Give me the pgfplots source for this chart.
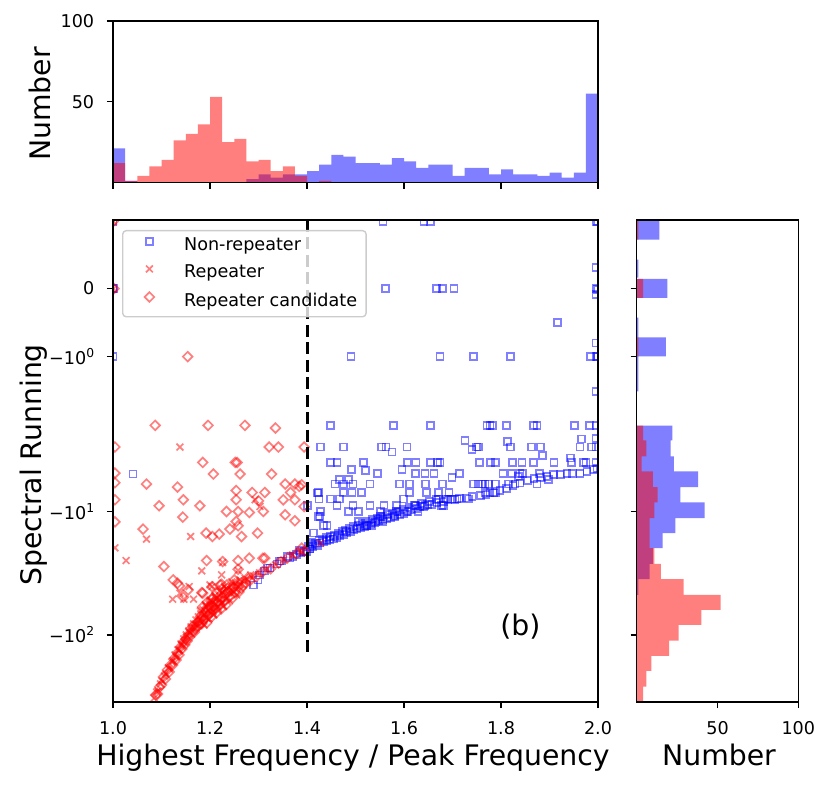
\documentclass[border=0pt]{standalone}
\usepackage{fontspec}
\setmainfont{DejaVu Sans}
\usepackage{pgfplots}
\pgfplotsset{compat=1.18}
\newcommand{\tickfont}{\fontsize{17.6bp}{21bp}\selectfont}
\newcommand{\labfont}{\fontsize{28.3bp}{33bp}\selectfont}
\newcommand{\msup}[1]{\raisebox{6.8bp}{\fontsize{12.3bp}{14bp}\selectfont #1}}
\pgfplotsset{
  common/.style={
    scale only axis,
    axis on top,
    axis line style={line width=1.4bp, black},
    tick style={line width=1.4bp, black},
    major tick length=6.2bp,
    tick align=outside,
    tick pos=left,
    ticklabel style={font=\tickfont},
    xticklabel style={anchor=north, inner sep=0pt, yshift=-13bp},
    yticklabel style={anchor=east, inner sep=0pt, xshift=-12.4bp},
    /pgf/number format/assume math mode=true,
  },
  bluemk/.style={only marks, mark=square, mark size=3.5bp, color=blue, mark options={draw opacity=0.5, line width=1.7bp}},
  redx/.style={only marks, mark=x, mark size=4.8bp, color=red, mark options={draw opacity=0.5, line width=1.7bp}},
  redd/.style={only marks, mark=square, mark size=3.4bp, color=red, mark options={rotate=45, draw opacity=0.5, line width=1.7bp}},
}
\begin{document}
\begin{tikzpicture}
\useasboundingbox (0bp,0bp) rectangle (831bp,785bp);

% ---------------- main scatter axis ----------------
\begin{axis}[common,
  at={(113bp,83bp)}, anchor=south west, width=485bp, height=482bp,
  xmin=1, xmax=2, ymin=-413, ymax=68.5,
  xtick={1,1.2,1.4,1.6,1.8,2}, xticklabels={1.0,1.2,1.4,1.6,1.8,2.0},
  ytick={0,-68,-222.7,-346},
  yticklabels={{0},{−10\msup{0}},{−10\msup{1}},{−10\msup{2}}},
  clip marker paths=true,
  legend cell align=left,
  legend image code/.code={\path (0bp,0bp) (51bp,0bp); \draw[sharp corners,#1] plot coordinates {(17bp,4.5bp)};},
  legend style={at={(0.0186,0.9793)}, anchor=north west, draw=black!20, line width=1.4bp,
    rounded corners=3.5bp, fill=white, fill opacity=0.8, text opacity=1,
    inner xsep=9bp, inner ysep=6.5bp, row sep=10bp, font=\tickfont,
    nodes={inner sep=0pt, text height=13.3bp, text depth=4.2bp}},
]
\addplot[bluemk] table {
x y
1.000 67
1.000 0
1.001 0
1.000 -68
1.557 67.3
1.641 67.3
1.654 67.3
1.996 67.3
1.999 67
1.996 20.7
1.562 0
1.667 0
1.680 0
1.703 0
1.996 0
1.999 -1
1.996 -6
1.916 -33.7
1.996 -54.3
1.491 -68
1.674 -68
1.744 -68
1.820 -68
1.984 -68
1.996 -68
1.999 -68
1.996 -102.7
1.449 -136.7
1.578 -136.7
1.654 -136.7
1.771 -136.7
1.777 -136.7
1.783 -136.7
1.812 -136.7
1.867 -136.7
1.874 -136.7
1.951 -136.7
1.982 -136.7
1.996 -136.7
1.726 -152
1.813 -152.7
1.966 -150.3
1.996 -150
1.428 -158.3
1.475 -158.3
1.554 -158.3
1.563 -158.3
1.606 -158.3
1.750 -158.3
1.753 -158.3
1.819 -158.3
1.863 -158.3
1.882 -158.3
1.963 -158.3
1.987 -158.3
1.996 -158.3
1.740 -161
1.575 -163.3
1.885 -166.7
1.944 -169.3
1.449 -173.7
1.462 -173.7
1.516 -173.7
1.607 -173.7
1.625 -173.7
1.655 -173.7
1.669 -173.7
1.674 -173.7
1.755 -173.7
1.779 -173.7
1.788 -173.7
1.824 -173.7
1.843 -173.7
1.867 -173.7
1.909 -173.7
1.946 -173.7
1.970 -173.7
1.975 -173.7
1.996 -173.7
1.545 -185
1.623 -185
1.643 -185
1.662 -185
1.715 -185
1.804 -185
1.822 -185
1.839 -185
1.845 -185
1.879 -185
1.492 -181
1.520 -182
1.596 -181
1.699 -188.7
1.898 -191
1.836 -187.7
1.041 -185.3
1.458 -195.3
1.475 -195.3
1.495 -195.3
1.530 -195.3
1.590 -195.3
1.611 -195.3
1.645 -195.3
1.680 -195.3
1.743 -195.3
1.753 -195.3
1.762 -195.3
1.767 -195.3
1.774 -195.3
1.788 -195.3
1.815 -195.3
1.829 -195.3
1.874 -195.3
1.467 -191
1.485 -191
1.423 -203.7
1.475 -203.7
1.493 -203.7
1.513 -203.7
1.612 -203.7
1.647 -203.7
1.671 -203.7
1.693 -203.7
1.767 -203.7
1.777 -203.7
1.788 -203.7
1.422 -204.3
1.425 -210.3
1.449 -210.3
1.467 -210.3
1.599 -210.3
1.671 -210.3
1.687 -210.3
1.698 -210.3
1.709 -210.3
1.733 -210.3
1.401 -217
1.462 -217
1.495 -217
1.530 -217
1.559 -217
1.585 -217
1.623 -217
1.643 -217
1.678 -217
1.681 -217
1.428 -222.7
1.485 -222.7
1.506 -222.7
1.551 -222.7
1.585 -222.7
1.606 -222.7
1.629 -222.7
1.423 -227.7
1.427 -227.7
1.551 -227.7
1.581 -227.7
1.506 -232.7
1.542 -232.7
1.557 -232.7
1.434 -237
1.441 -237
1.523 -237
1.533 -237
1.414 -244.3
1.408 -253.7
1.406 -260.3
1.289 -296
1.299 -291
1.313 -282
1.324 -279
1.338 -275
1.348 -272
1.365 -269.3
1.371 -268
1.379 -266
1.386 -264
1.394 -263
1.399 -262.7
1.406 -260
1.412 -258
1.421 -257
1.427 -254.3
1.435 -253
1.441 -252
1.447 -251
1.454 -250.3
1.462 -249
1.468 -247
1.476 -246
1.482 -244
1.489 -242.7
1.497 -241
1.503 -240
1.511 -239
1.518 -238
1.523 -237
1.532 -235
1.540 -234
1.548 -232
1.557 -231
1.565 -230
1.573 -229
1.581 -227
1.592 -226
1.600 -225
1.608 -223
1.616 -221
1.627 -220
1.633 -218
1.640 -217.7
1.649 -216
1.658 -216
1.668 -214
1.681 -212.7
1.691 -211
1.705 -210.5
1.715 -210
1.729 -209.3
1.740 -208
1.757 -206.5
1.769 -205.5
1.784 -204.3
1.798 -202
1.812 -200
1.825 -197
1.839 -194.3
1.854 -192
1.868 -190
1.882 -188.5
1.895 -187.5
1.908 -186
1.922 -185.5
1.936 -185
1.948 -185
1.963 -185
1.977 -183
1.990 -181
1.998 -180
1.403 -258
1.410 -256
1.418 -255
1.425 -252
1.432 -251
1.440 -249
1.448 -248
1.456 -247
1.465 -245
1.473 -243
1.480 -242
1.488 -240
1.495 -238
1.505 -237
1.515 -235
1.525 -233
1.535 -231
1.545 -230
1.556 -228
1.566 -226
1.577 -225
1.588 -223
1.598 -221
1.610 -219
1.622 -217
1.636 -215
1.652 -213
1.666 -211
1.302 -286
1.318 -279
1.343 -272
1.360 -268
1.384 -262
};
\addlegendentry{Non-repeater}
\addplot[redx] table {
x y
1.138 -158.3
1.004 -259
1.293 -211
1.303 -217.7
1.069 -250.3
1.160 -247.7
1.027 -271.7
1.226 -273.7
1.183 -282
1.224 -286
1.123 -310.3
1.146 -310.3
1.166 -310.3
1.157 -297.7
1.204 -297.7
1.258 -281.7
1.138 -304.3
1.200 -296
1.428 -254.3
1.001 0
1.001 67
1.085 -409
1.093 -402
1.101 -392
1.109 -385
1.116 -380
1.124 -372
1.130 -368
1.137 -361
1.142 -356
1.147 -353
1.152 -348
1.158 -344
1.162 -342
1.168 -339
1.172 -336
1.176 -331
1.180 -334
1.185 -328
1.189 -325
1.193 -329
1.197 -322
1.202 -319
1.206 -323
1.210 -315
1.214 -318
1.219 -311
1.224 -314
1.228 -306
1.233 -310
1.238 -304
1.243 -301
1.249 -303
1.255 -297
1.262 -296
1.270 -292
1.278 -291
1.290 -287
1.302 -284
1.318 -280
1.335 -276
1.352 -271
1.370 -266
1.388 -262
1.180 -322
1.190 -316
1.200 -312
1.210 -307
1.220 -302
1.230 -298
1.245 -293
1.188 -336
1.198 -330
1.208 -326
1.218 -320
1.228 -317
1.240 -312
1.255 -306
1.090 -403
1.098 -395
1.106 -387
1.114 -379
1.121 -373
1.128 -366
1.134 -361
1.140 -355
1.146 -350
1.151 -346
1.156 -342
1.161 -338
1.166 -335
1.171 -331
1.176 -328
1.181 -325
1.186 -321
1.192 -318
1.198 -315
1.204 -312
1.211 -309
1.218 -306
1.226 -303
1.234 -300
1.243 -297
1.252 -294
1.262 -291
1.272 -289
1.284 -286
};
\addlegendentry{Repeater}
\addplot[redd] table {
x y
1.154 -68
1.087 -136.7
1.196 -136.7
1.272 -136.7
1.335 -139.3
1.004 -158.3
1.322 -158.3
1.341 -158.3
1.394 -158.3
1.004 -184.3
1.004 -194
1.004 -211
1.004 -233
1.185 -173.7
1.207 -185.3
1.252 -173.7
1.256 -173.7
1.262 -185.3
1.327 -185.3
1.355 -195.3
1.375 -195.3
1.069 -195.3
1.133 -198.3
1.254 -201.7
1.287 -203.7
1.313 -203.7
1.366 -203.7
1.384 -197.7
1.095 -217
1.145 -211
1.179 -217
1.254 -211
1.300 -212
1.351 -211
1.375 -211
1.234 -222.7
1.258 -222.7
1.281 -223.7
1.310 -222.7
1.355 -226
1.375 -232
1.144 -228.3
1.254 -232.7
1.241 -240.3
1.258 -237
1.062 -240.3
1.192 -244.3
1.205 -247.7
1.219 -245.3
1.265 -247.7
1.298 -244.3
1.193 -271.7
1.226 -272.7
1.258 -271.7
1.281 -269.3
1.313 -269.3
1.105 -277.7
1.258 -280.3
1.124 -291
1.137 -297
1.185 -304.3
1.224 -295.3
1.133 -294.3
1.155 -301
1.145 -308.3
1.183 -303.7
1.204 -297.7
1.221 -296
1.204 -310.3
1.309 -269.3
1.389 -196
1.394 -217.7
1.389 -259.3
1.000 67
1.002 0
1.088 -406
1.096 -398
1.104 -388
1.112 -381
1.119 -376
1.127 -369
1.133 -364
1.139 -358
1.145 -353
1.150 -350
1.155 -346
1.160 -340
1.165 -337
1.170 -340
1.174 -333
1.178 -336
1.182 -327
1.187 -331
1.191 -323
1.195 -326
1.199 -318
1.204 -322
1.208 -314
1.212 -320
1.217 -313
1.221 -316
1.226 -309
1.231 -312
1.236 -303
1.240 -308
1.246 -300
1.252 -304
1.258 -298
1.265 -299
1.273 -294
1.282 -292
1.295 -288
1.308 -283
1.325 -280
1.342 -274
1.360 -269
1.378 -265
1.395 -262
1.185 -318
1.195 -313
1.205 -309
1.215 -304
1.225 -300
1.235 -296
1.250 -291
1.193 -334
1.203 -328
1.213 -324
1.223 -320
1.233 -316
1.247 -309
1.260 -303
1.092 -405
1.100 -396
1.108 -390
1.116 -383
1.123 -376
1.130 -371
1.136 -366
1.142 -360
1.148 -356
1.153 -352
1.158 -348
1.163 -344
1.168 -343
1.173 -338
1.178 -332
1.183 -335
1.189 -330
1.195 -320
1.201 -324
1.207 -318
1.214 -314
1.222 -310
1.230 -306
1.238 -302
1.248 -298
1.258 -294
1.268 -297
1.278 -289
};
\addlegendentry{Repeater candidate}
\addplot[black, line width=3bp, dash pattern=on 12bp off 5.5bp, forget plot] coordinates {(1.4,68.5) (1.4,-365)};
\node[font=\labfont] at (axis cs:1.840,-338) {(b)};
\end{axis}

% ---------------- top histogram ----------------
\begin{axis}[common,
  at={(113bp,602.6bp)}, anchor=south west, width=485bp, height=161.4bp,
  xmin=1, xmax=2, ymin=0, ymax=100,
  xtick={1,1.2,1.4,1.6,1.8,2}, xticklabels={,,,,,},
  ytick={50,100}, yticklabels={50,100},
]
\addplot[ybar interval, fill=blue, fill opacity=0.5, draw=none] coordinates {
(1.000,21) (1.025,1) (1.050,0) (1.075,0) (1.100,0) (1.125,0) (1.150,0) (1.175,0)
(1.200,0) (1.225,0) (1.250,0) (1.275,2) (1.300,5) (1.325,3) (1.350,5) (1.375,5)
(1.400,7) (1.425,11) (1.450,17) (1.475,16) (1.500,12) (1.525,12) (1.550,11) (1.575,15)
(1.600,13) (1.625,9) (1.650,11) (1.675,11) (1.700,4) (1.725,9) (1.750,9) (1.775,5)
(1.800,8) (1.825,5) (1.850,5) (1.875,4) (1.900,6) (1.925,3) (1.950,6) (1.975,55) (2.000,0)};
\addplot[ybar interval, fill=red, fill opacity=0.5, draw=none] coordinates {
(1.000,12) (1.025,1) (1.050,4) (1.075,10) (1.100,14) (1.125,26) (1.150,30) (1.175,36)
(1.200,53) (1.225,25) (1.250,27) (1.275,13) (1.300,14) (1.325,7) (1.350,10) (1.375,4)
(1.400,0) (1.425,1) (1.450,0) (2.000,0)};
\end{axis}

% ---------------- right histogram ----------------
\begin{axis}[common,
  at={(636.7bp,83bp)}, anchor=south west, width=161.6bp, height=482bp,
  xmin=0, xmax=100, ymin=-413, ymax=68.5,
  xtick={50,100}, xticklabels={50,100},
  ytick={0,-68,-222.7,-346}, yticklabels={,,,},
]
\addplot[xbar interval, fill=blue, fill opacity=0.5, draw=none] coordinates {
(0,-412) (0,-397.7) (0,-382) (0,-367) (0,-351.7) (0,-336) (0,-321) (1,-306)
(8,-290.3) (10,-275) (16,-259.3) (24,-244.3) (42,-229.3) (27,-213.7) (38,-198.3)
(23,-182.7) (21,-167.7) (22,-151.7) (0,-137) (1,-102.7) (1,-85) (18,-67.7)
(1,-48.7) (0,-29) (19,-9.3) (0,9.7) (1,11) (0,29) (14,49) (0,68.5)};
\addplot[xbar interval, fill=red, fill opacity=0.5, draw=none] coordinates {
(4,-412) (6,-397.7) (9,-382) (20,-367) (26,-351.7) (40,-336) (52,-321) (29,-306)
(15,-290.3) (11,-275) (8,-259.3) (8,-244.3) (11,-229.3) (13,-213.7) (10,-198.3)
(3,-182.7) (6,-167.7) (4,-151.7) (0,-137) (1,-67.7) (0,-48.7) (4,-9.3) (0,9.7)
(1,49) (0,68.5)};
\end{axis}

% ---------------- axis labels ----------------
\node[font=\labfont, anchor=base] at (353bp,20bp) {Highest Frequency / Peak Frequency};
\node[font=\labfont, anchor=base] at (719bp,20bp) {Number};
\node[font=\labfont, anchor=base, rotate=90] at (41bp,320bp) {Spectral Running};
\node[font=\labfont, anchor=base, rotate=90] at (50bp,681bp) {Number};
\end{tikzpicture}
\end{document}
